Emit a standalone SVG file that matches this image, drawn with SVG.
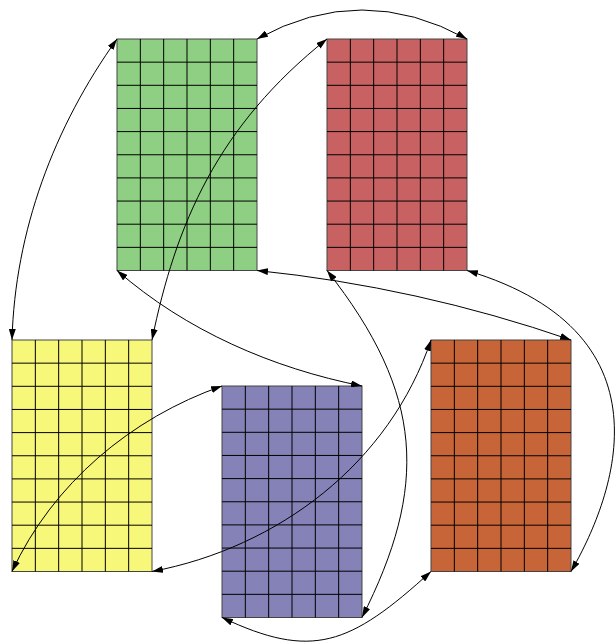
<svg xmlns="http://www.w3.org/2000/svg" xmlns:xlink="http://www.w3.org/1999/xlink" width="615" height="642" viewBox="0 0 615 642">
<style>
.box{stroke:#444;stroke-width:1}
.grid{fill:none;stroke:#000;stroke-width:1}
.edge{fill:none;stroke:#000;stroke-width:1;marker-start:url(#arr);marker-end:url(#arr)}
</style>
<defs>
<marker id="arr" viewBox="0 0 11 7" refX="11" refY="3.5" markerWidth="11" markerHeight="7" markerUnits="userSpaceOnUse" orient="auto-start-reverse">
<path d="M0,0 L11,3.5 L0,7 z" fill="#000"/>
</marker>
<path id="grid" class="grid" d="M23.33,0V231.5M46.67,0V231.5M70,0V231.5M93.33,0V231.5M116.67,0V231.5M0,23.15H140M0,46.3H140M0,69.45H140M0,92.6H140M0,115.75H140M0,138.9H140M0,162.05H140M0,185.2H140M0,208.35H140"/>
</defs>
<g id="green" transform="translate(117,39)"><rect class="box" width="140" height="231.5" fill="#8fcf83"/><use xlink:href="#grid"/></g>
<g id="red" transform="translate(327,39)"><rect class="box" width="140" height="231.5" fill="#c86262"/><use xlink:href="#grid"/></g>
<g id="yellow" transform="translate(12,340)"><rect class="box" width="140" height="231.5" fill="#f7f77a"/><use xlink:href="#grid"/></g>
<g id="blue" transform="translate(222,386)"><rect class="box" width="140" height="231.5" fill="#8482b6"/><use xlink:href="#grid"/></g>
<g id="orange" transform="translate(431,340)"><rect class="box" width="140" height="231.5" fill="#c86538"/><use xlink:href="#grid"/></g>
<g id="connectors">
<path class="edge" d="M12,340 C15,231 54,127 117,39"/>
<path class="edge" d="M257,39 Q362,-19 467,39"/>
<path class="edge" d="M327,39 C217.8,125.8 175.7,223.8 152,340"/>
<path class="edge" d="M117,270.5 C186,330.7 272,368 362,386"/>
<path class="edge" d="M257,270.5 Q418,287 571,340"/>
<path class="edge" d="M327,270.5 C425,395 428,487 362,617.5"/>
<path class="edge" d="M467,270.5 C681.6,334.8 609.8,504.5 571,571.5"/>
<path class="edge" d="M12,571.5 C52.7,483.7 130.8,418 222,386"/>
<path class="edge" d="M152,571.5 C279,547.4 389.5,463 431,340"/>
<path class="edge" d="M222,617.5 C312,660 349.6,645.7 431,571.5"/>
</g>
</svg>
